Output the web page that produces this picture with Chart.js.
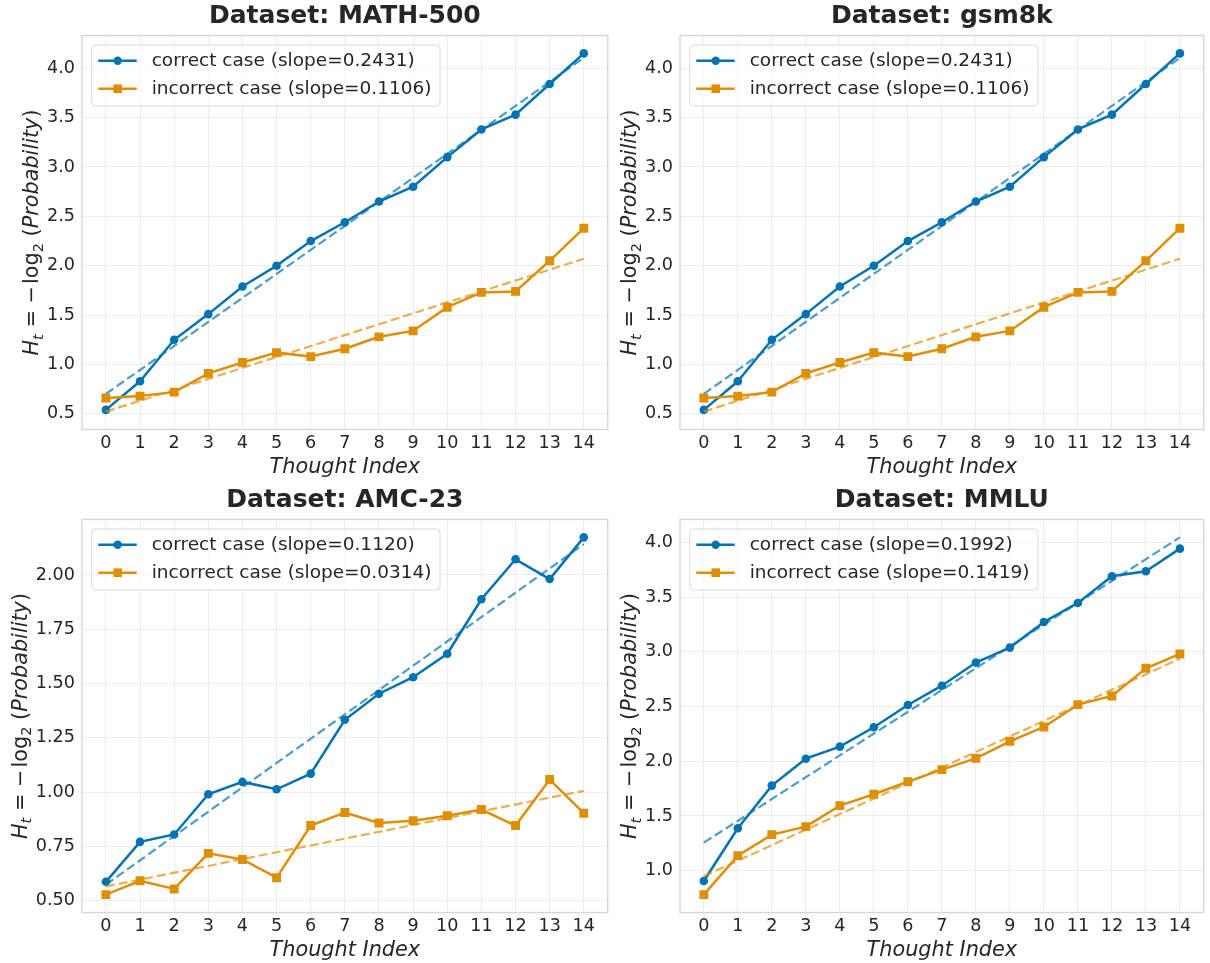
<!DOCTYPE html>
<html>
<head>
<meta charset="utf-8">
<script src="https://cdn.jsdelivr.net/npm/chart.js@4.4.1/dist/chart.umd.min.js"></script>
<style>
    body { margin: 0; background: #fff; }
    #wrap { position: relative; width: 1210px; height: 963px; overflow: hidden; }
    canvas { position: absolute; }
</style>
</head>
<body>
<div id="wrap">
    <canvas id="c0" width="614" height="478" style="left:0;top:0"></canvas>
    <canvas id="c1" width="596" height="478" style="left:614px;top:0"></canvas>
    <canvas id="c2" width="614" height="485" style="left:0;top:478px"></canvas>
    <canvas id="c3" width="596" height="485" style="left:614px;top:478px"></canvas>
</div>
<script>
// values
const thoughtIndex = [0, 1, 2, 3, 4, 5, 6, 7, 8, 9, 10, 11, 12, 13, 14];

const math500Correct   = [0.54, 0.83, 1.25, 1.51, 1.79, 2.00, 2.25, 2.44, 2.65, 2.80, 3.10, 3.38, 3.53, 3.84, 4.15];
const math500Incorrect = [0.66, 0.68, 0.72, 0.91, 1.02, 1.12, 1.08, 1.16, 1.28, 1.34, 1.58, 1.73, 1.74, 2.05, 2.38];
const math500CorrectFit   = [0.702, 4.105];
const math500IncorrectFit = [0.523, 2.071];

const gsm8kCorrect   = [0.54, 0.83, 1.25, 1.51, 1.79, 2.00, 2.25, 2.44, 2.65, 2.80, 3.10, 3.38, 3.53, 3.84, 4.15];
const gsm8kIncorrect = [0.66, 0.68, 0.72, 0.91, 1.02, 1.12, 1.08, 1.16, 1.28, 1.34, 1.58, 1.73, 1.74, 2.05, 2.38];
const gsm8kCorrectFit   = [0.702, 4.105];
const gsm8kIncorrectFit = [0.523, 2.071];

const amc23Correct   = [0.587, 0.771, 0.805, 0.990, 1.047, 1.013, 1.085, 1.333, 1.453, 1.529, 1.637, 1.888, 2.072, 1.981, 2.173];
const amc23Incorrect = [0.528, 0.592, 0.554, 0.718, 0.690, 0.606, 0.846, 0.906, 0.858, 0.868, 0.891, 0.920, 0.846, 1.058, 0.903];
const amc23CorrectFit   = [0.574, 2.142];
const amc23IncorrectFit = [0.566, 1.006];

const mmluCorrect   = [0.906, 1.387, 1.777, 2.023, 2.133, 2.310, 2.514, 2.690, 2.901, 3.038, 3.272, 3.446, 3.690, 3.735, 3.942];
const mmluIncorrect = [0.781, 1.137, 1.329, 1.402, 1.594, 1.698, 1.813, 1.923, 2.026, 2.182, 2.313, 2.517, 2.596, 2.849, 2.980];
const mmluCorrectFit   = [1.256, 4.045];
const mmluIncorrectFit = [0.949, 2.936];

const datasetNames    = ['MATH-500', 'gsm8k', 'AMC-23', 'MMLU'];
const correctSlopes   = ['0.2431', '0.2431', '0.1120', '0.1992'];
const incorrectSlopes = ['0.1106', '0.1106', '0.0314', '0.1419'];

const yTicksMath500 = [0.5, 1.0, 1.5, 2.0, 2.5, 3.0, 3.5, 4.0];
const yTicksGsm8k   = [0.5, 1.0, 1.5, 2.0, 2.5, 3.0, 3.5, 4.0];
const yTicksAmc23   = [0.50, 0.75, 1.00, 1.25, 1.50, 1.75, 2.00];
const yTicksMmlu    = [1.0, 1.5, 2.0, 2.5, 3.0, 3.5, 4.0];

const BLUE = '#0173b2';
const ORANGE = '#de8f05';
const BLUE_FIT = 'rgba(1,115,178,0.7)';
const ORANGE_FIT = 'rgba(222,143,5,0.7)';
const TEXT = '#262626';
const FONT = '"DejaVu Sans", sans-serif';

// canvas id, chart area box inside the canvas, tick decimals
const panels = [
    { id: 'c0', correct: math500Correct, incorrect: math500Incorrect, correctFit: math500CorrectFit, incorrectFit: math500IncorrectFit, yTicks: yTicksMath500, dec: 1, left: 82, right: 610, top: 35.5, bottom: 429.5 },
    { id: 'c1', correct: gsm8kCorrect, incorrect: gsm8kIncorrect, correctFit: gsm8kCorrectFit, incorrectFit: gsm8kIncorrectFit, yTicks: yTicksGsm8k, dec: 1, left: 66, right: 594.5, top: 35.5, bottom: 429.5 },
    { id: 'c2', correct: amc23Correct, incorrect: amc23Incorrect, correctFit: amc23CorrectFit, incorrectFit: amc23IncorrectFit, yTicks: yTicksAmc23, dec: 2, left: 82, right: 610, top: 41.5, bottom: 434.5 },
    { id: 'c3', correct: mmluCorrect, incorrect: mmluIncorrect, correctFit: mmluCorrectFit, incorrectFit: mmluIncorrectFit, yTicks: yTicksMmlu, dec: 1, left: 66, right: 594.5, top: 41.5, bottom: 434.5 },
];

const drawYLabel = (ctx, cx, cy, size) => {
    const segs = [
        { t: 'H', style: 'italic', s: 1, dy: 0 },
        { t: 't', style: 'italic', s: 0.7, dy: 0.2 },
        { t: ' = \u2212\u200alog', style: 'normal', s: 1, dy: 0 },
        { t: '2', style: 'normal', s: 0.7, dy: 0.2 },
        { t: ' (', style: 'normal', s: 1, dy: 0 },
        { t: 'Probability', style: 'italic', s: 1, dy: 0 },
        { t: ')', style: 'normal', s: 1, dy: 0 },
    ];
    ctx.save();
    ctx.translate(cx, cy);
    ctx.rotate(-Math.PI / 2);
    ctx.fillStyle = TEXT;
    ctx.textBaseline = 'alphabetic';
    ctx.textAlign = 'left';
    let total = 0;
    segs.forEach(sg => {
        ctx.font = `${sg.style} ${size * sg.s}px ${FONT}`;
        sg.w = ctx.measureText(sg.t).width;
        total += sg.w;
    });
    let x = -total / 2;
    segs.forEach(sg => {
        ctx.font = `${sg.style} ${size * sg.s}px ${FONT}`;
        ctx.fillText(sg.t, x, sg.dy * size);
        x += sg.w;
    });
    ctx.restore();
};

const roundRect = (ctx, x, y, w, h, r) => {
    ctx.beginPath();
    ctx.moveTo(x + r, y);
    ctx.lineTo(x + w - r, y);
    ctx.arcTo(x + w, y, x + w, y + r, r);
    ctx.lineTo(x + w, y + h - r);
    ctx.arcTo(x + w, y + h, x + w - r, y + h, r);
    ctx.lineTo(x + r, y + h);
    ctx.arcTo(x, y + h, x, y + h - r, r);
    ctx.lineTo(x, y + r);
    ctx.arcTo(x, y, x + r, y, r);
    ctx.closePath();
};

// frame, title, axis labels and in-plot legend
const decorPlugin = {
    id: 'decor',
    beforeDatasetsDraw(chart) {
        const { ctx, chartArea: a } = chart;
        ctx.save();
        ctx.strokeStyle = '#d6d6d6';
        ctx.lineWidth = 1.4;
        ctx.strokeRect(a.left, a.top, a.right - a.left, a.bottom - a.top);
        ctx.restore();
    },
    afterDraw(chart, args, opts) {
        const { ctx, chartArea: a } = chart;
        const cx = (a.left + a.right) / 2;
        ctx.save();
        ctx.fillStyle = TEXT;
        ctx.textAlign = 'center';
        ctx.textBaseline = 'alphabetic';
        ctx.font = `bold 25px ${FONT}`;
        ctx.fillText('Dataset: ' + opts.name, cx, a.top - 12.8);
        ctx.font = `italic 20.8px ${FONT}`;
        ctx.fillText('Thought Index', cx, a.bottom + 43);

        // y label sits left of the widest tick label
        ctx.font = `17.6px ${FONT}`;
        const maxW = Math.max(...opts.tickLabels.map(s => ctx.measureText(s).width));
        drawYLabel(ctx, a.left - 7 - maxW - 8.6, (a.top + a.bottom) / 2, 20.8);

        // legend
        const lx = a.left + 9.7, ly = a.top + 9.5;
        ctx.font = `18.5px ${FONT}`;
        const textW = Math.max(...opts.legend.map(l => ctx.measureText(l.text).width));
        const bw = 60 + textW + 8.5, bh = 61;
        roundRect(ctx, lx, ly, bw, bh, 4);
        ctx.fillStyle = 'rgba(255,255,255,0.8)';
        ctx.fill();
        ctx.strokeStyle = '#d9d9d9';
        ctx.lineWidth = 1;
        ctx.stroke();
        opts.legend.forEach((l, i) => {
            const ry = ly + 15.7 + i * 28;
            ctx.strokeStyle = l.color;
            ctx.lineWidth = 2.5;
            ctx.beginPath();
            ctx.moveTo(lx + 6.6, ry);
            ctx.lineTo(lx + 45, ry);
            ctx.stroke();
            ctx.fillStyle = l.color;
            if (l.marker === 'circle') {
                ctx.beginPath();
                ctx.arc(lx + 26, ry, 4.2, 0, Math.PI * 2);
                ctx.fill();
            } else {
                ctx.fillRect(lx + 26 - 4.3, ry - 4.3, 8.6, 8.6);
            }
            ctx.fillStyle = TEXT;
            ctx.textAlign = 'left';
            ctx.textBaseline = 'middle';
            ctx.fillText(l.text, lx + 60, ry);
        });
        ctx.restore();
    }
};

const makeChart = (p, idx) => {
    const canvas = document.getElementById(p.id);
    const W = canvas.width, H = canvas.height;
    const allY = [...p.correct, ...p.incorrect, ...p.correctFit, ...p.incorrectFit];
    const lo = Math.min(...allY), hi = Math.max(...allY);
    const m = (hi - lo) * 0.05;
    const x0 = thoughtIndex[0], x1 = thoughtIndex[thoughtIndex.length - 1];
    const xm = (x1 - x0) * 0.05;
    const pts = arr => thoughtIndex.map((x, i) => ({ x: x, y: arr[i] }));
    const fit = arr => [{ x: x0, y: arr[0] }, { x: x1, y: arr[1] }];
    const legendItems = [
        { text: `correct case (slope=${correctSlopes[idx]})`, color: BLUE, marker: 'circle' },
        { text: `incorrect case (slope=${incorrectSlopes[idx]})`, color: ORANGE, marker: 'rect' },
    ];

    return new Chart(canvas, {
        type: 'line',
        data: {
            datasets: [
                { label: legendItems[0].text, data: pts(p.correct), borderColor: BLUE, backgroundColor: BLUE,
                  borderWidth: 2.5, pointStyle: 'circle', pointRadius: 4.3, pointBorderWidth: 0, order: 4 },
                { label: 'correct fit', data: fit(p.correctFit), borderColor: BLUE_FIT, borderWidth: 2.2,
                  borderDash: [9, 4], pointRadius: 0, order: 3 },
                { label: legendItems[1].text, data: pts(p.incorrect), borderColor: ORANGE, backgroundColor: ORANGE,
                  borderWidth: 2.5, pointStyle: 'rect', pointRadius: 6.3, pointBorderWidth: 0, order: 2 },
                { label: 'incorrect fit', data: fit(p.incorrectFit), borderColor: ORANGE_FIT, borderWidth: 2.2,
                  borderDash: [9, 4], pointRadius: 0, order: 1 },
            ]
        },
        options: {
            responsive: false,
            animation: false,
            layout: { padding: { left: 0, top: p.top, right: W - p.right, bottom: 0 } },
            scales: {
                x: {
                    type: 'linear',
                    min: x0 - xm,
                    max: x1 + xm,
                    afterBuildTicks: s => { s.ticks = thoughtIndex.map(v => ({ value: v })); },
                    afterFit: s => { s.height = H - p.bottom; },
                    grid: { color: '#ececec', lineWidth: 1, drawTicks: false },
                    border: { display: false },
                    ticks: { color: TEXT, font: { family: FONT, size: 17.6 }, padding: 3, maxRotation: 0, autoSkip: false,
                             callback: v => String(v) }
                },
                y: {
                    min: lo - m,
                    max: hi + m,
                    afterBuildTicks: s => { s.ticks = p.yTicks.map(v => ({ value: v })); },
                    afterFit: s => { s.width = p.left; },
                    grid: { color: '#ececec', lineWidth: 1, drawTicks: false },
                    border: { display: false },
                    ticks: { color: TEXT, font: { family: FONT, size: 17.6 }, padding: 7,
                             callback: v => Number(v).toFixed(p.dec) }
                }
            },
            plugins: {
                legend: { display: false },
                tooltip: { enabled: false },
                decor: { name: datasetNames[idx], legend: legendItems, tickLabels: p.yTicks.map(v => v.toFixed(p.dec)) }
            }
        },
        plugins: [decorPlugin]
    });
};

panels.forEach((p, i) => makeChart(p, i));
</script>
</body>
</html>
